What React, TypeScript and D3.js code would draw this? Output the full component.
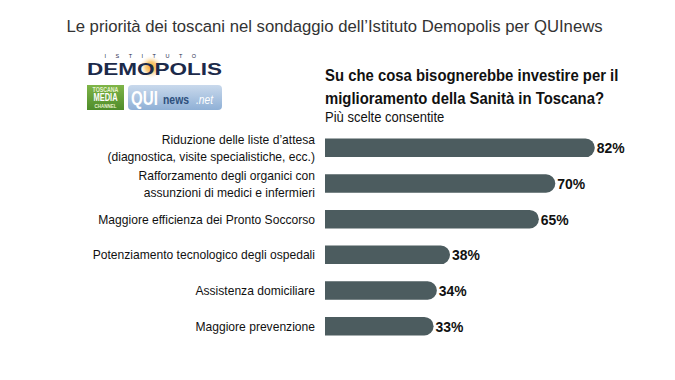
import React from "react";
import * as d3 from "d3";

const categories: string[][] = [
  ["Riduzione delle liste d\u2019attesa", "(diagnostica, visite specialistiche, ecc.)"],
  ["Rafforzamento degli organici con", "assunzioni di medici e infermieri"],
  ["Maggiore efficienza dei Pronto Soccorso"],
  ["Potenziamento tecnologico degli ospedali"],
  ["Assistenza domiciliare"],
  ["Maggiore prevenzione"],
];
const values: number[] = [82, 70, 65, 38, 34, 33];

const W = 675;
const H = 380;
const SANS = "'Liberation Sans', Arial, sans-serif";
const SX = 0.93;

type NProps = {
  x: number;
  y: number;
  sx?: number;
  anchor?: "start" | "middle" | "end";
  size: number;
  weight?: number;
  fill?: string;
  style?: string;
  children: React.ReactNode;
};
function NText({ x, y, sx = SX, anchor = "start", size, weight = 400, fill = "#111", style = "normal", children }: NProps) {
  return (
    <text
      transform={`translate(${x},${y}) scale(${sx},1)`}
      textAnchor={anchor}
      fontFamily={SANS}
      fontSize={size}
      fontWeight={weight}
      fontStyle={style}
      fill={fill}
    >
      {children}
    </text>
  );
}

export default function App() {
  const x = d3.scaleLinear().domain([0, 100]).range([325, 654]);
  const y = d3
    .scaleBand<number>()
    .domain(d3.range(values.length))
    .range([130, 344])
    .paddingInner(0.48)
    .paddingOuter(0.24);
  const bh = y.bandwidth();

  const barPath = (v: number, i: number) => {
    const x0 = x(0);
    const x1 = x(v);
    const y0 = y(i)!;
    const r = bh / 2;
    const p = d3.path();
    p.moveTo(x0, y0);
    p.lineTo(x1 - r, y0);
    p.arc(x1 - r, y0 + r, r, -Math.PI / 2, Math.PI / 2);
    p.lineTo(x0, y0 + bh);
    p.closePath();
    return p.toString();
  };

  return (
    <svg width={W} height={H} style={{ position: "absolute", left: 0, top: 0, background: "#fff" }}>
      <defs>
        <radialGradient id="glow" cx="0.5" cy="0.5" r="0.5">
          <stop offset="0%" stopColor="#f6a623" stopOpacity={1} />
          <stop offset="45%" stopColor="#f8c060" stopOpacity={0.8} />
          <stop offset="100%" stopColor="#ffffff" stopOpacity={0} />
        </radialGradient>
        <linearGradient id="qui" x1="0" y1="0" x2="0" y2="1">
          <stop offset="0%" stopColor="#c9d9ec" />
          <stop offset="100%" stopColor="#8fb0d6" />
        </linearGradient>
        <linearGradient id="tmc" x1="0" y1="0" x2="0" y2="1">
          <stop offset="0%" stopColor="#7fb548" />
          <stop offset="100%" stopColor="#4e8c2a" />
        </linearGradient>
      </defs>
      <rect width={W} height={H} fill="#fff" />
      <NText x={W / 2 - 3} y={32} anchor="middle" size={16.7} sx={1} fill="#333">
        Le priorit{"\u00e0"} dei toscani nel sondaggio dell{"\u2019"}Istituto Demopolis per QUInews
      </NText>

      {/* Logos */}
      <g>
        <text x={155} y={58} textAnchor="middle" fontFamily={SANS} fontSize={5.5} fill="#1c2a4a" letterSpacing={9.5}>
          ISTITUTO
        </text>
        <circle cx={151} cy={67} r={12} fill="url(#glow)" />
        <text x={87} y={75} fontFamily={SANS} fontWeight={700} fontSize={17} fill="#1c2a4a" textLength={135} lengthAdjust="spacingAndGlyphs">
          DEMOPOLIS
        </text>
        <rect x={87} y={85} width={37} height={25} fill="url(#tmc)" />
        <NText x={105.5} y={92} anchor="middle" size={7} sx={0.75} weight={700} fill="#e8f3d0">TOSCANA</NText>
        <NText x={105.5} y={101} anchor="middle" size={10} sx={0.75} weight={700} fill="#fff">MEDIA</NText>
        <NText x={105.5} y={107.5} anchor="middle" size={6} sx={0.75} weight={700} fill="#e8f3d0">CHANNEL</NText>
        <rect x={128} y={85} width={94} height={25} rx={4} fill="url(#qui)" />
        <NText x={131} y={105} size={21} sx={0.72} weight={700} fill="#fff">QUI</NText>
        <NText x={163} y={104} size={13} sx={0.8} weight={700} fill="#2d4f7c">news</NText>
        <NText x={196} y={104} size={12} sx={0.85} style="italic" fill="#fff">.net</NText>
      </g>

      {/* Question */}
      <NText x={325} y={81} size={16} weight={700}>Su che cosa bisognerebbe investire per il</NText>
      <NText x={325} y={104} size={16} weight={700}>miglioramento della Sanit{"\u00e0"} in Toscana?</NText>
      <NText x={325} y={122} size={14}>Pi{"\u00f9"} scelte consentite</NText>

      {/* Bars */}
      {values.map((v, i) => (
        <path key={"b" + i} d={barPath(v, i)} fill="#4c5c5f" />
      ))}
      {values.map((v, i) => (
        <NText key={"v" + i} x={x(v) + 2} y={y(i)! + bh / 2 + 5.5} size={15} weight={700}>
          {v}%
        </NText>
      ))}
      {categories.map((lines, i) => {
        const cy = y(i)! + bh / 2;
        const lh = 17;
        const start = cy - ((lines.length - 1) * lh) / 2 + 4.5;
        return (
          <g key={"c" + i}>
            {lines.map((l, j) => (
              <NText key={j} x={315} y={start + j * lh} anchor="end" size={13}>
                {l}
              </NText>
            ))}
          </g>
        );
      })}
    </svg>
  );
}
